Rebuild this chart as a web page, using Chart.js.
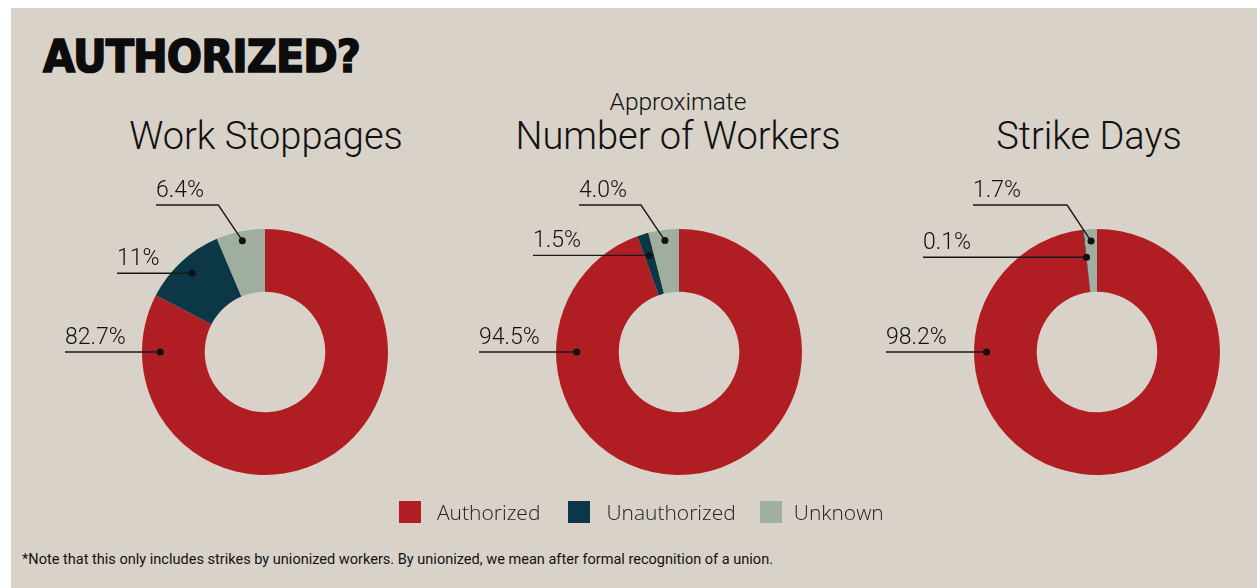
<!DOCTYPE html>
<html>
<head>
<meta charset="utf-8">
<script src="https://cdn.jsdelivr.net/npm/chart.js@4.4.1/dist/chart.umd.min.js"></script>
<style>
  html, body { margin: 0; padding: 0; background: #fff; width: 1257px; height: 588px; overflow: hidden; }
  #panel { position: absolute; left: 11px; top: 8px; right: 0; bottom: 0; background: #d9d2c9; }
  .abs { position: absolute; white-space: nowrap; }
  #headline { left: 43px; top: 31px; font-family: "DejaVu Sans"; font-weight: 900; font-size: 44px; color: #0c0c0c; transform-origin: 0 0; letter-spacing: -1px; -webkit-text-stroke: 1.6px #0c0c0c; }
  .title { font-family: Roboto; font-weight: 300; color: #111; transform: translateX(-50%); }
  canvas { position: absolute; }
  #legend { position: absolute; top: 498px; left: 399px; display: flex; align-items: center; font-family: "Open Sans"; font-weight: 300; font-size: 21px; color: #222; }
  #legend .item { display: flex; align-items: center; }
  #legend .box { width: 22px; height: 22px; margin-right: 16px; }
  #note { left: 22px; top: 551px; font-family: Roboto; font-size: 14px; font-weight: 400; color: #111; transform-origin: 0 0; }
</style>
</head>
<body>
<div id="panel"></div>
<div id="headline" class="abs">AUTHORIZED?</div>
<div class="abs title" style="left:266px; top:114px; font-size:38px;">Work Stoppages</div>
<div class="abs title" style="left:678px; top:87px; font-size:24.5px;">Approximate</div>
<div class="abs title" style="left:678px; top:114px; font-size:38px;">Number of Workers</div>
<div class="abs title" style="left:1089px; top:114px; font-size:38px;">Strike Days</div>
<canvas id="c0" width="460" height="390"></canvas>
<canvas id="c1" width="460" height="390"></canvas>
<canvas id="c2" width="460" height="390"></canvas>
<div id="legend"></div>
<div id="note" class="abs">*Note that this only includes strikes by unionized workers. By unionized, we mean after formal recognition of a union.</div>
<script>
const categories = ['Authorized', 'Unauthorized', 'Unknown'];
const colors = ['#b01e24', '#0b3747', '#9fae9f'];

const workStoppages = [82.7, 11, 6.4];
const workStoppagesLabels = ['82.7%', '11%', '6.4%'];
const workers = [94.5, 1.5, 4.0];
const workersLabels = ['94.5%', '1.5%', '4.0%'];
const strikeDays = [98.2, 0.1, 1.7];
const strikeDaysLabels = ['98.2%', '0.1%', '1.7%'];

// where each donut sits and how its callouts are laid out
const charts = [
  { id: 'c0', cx: 265, values: workStoppages, labels: workStoppagesLabels, textX: [-200, -148, -109], dotR: [0.71, 0.75, 0.85] },
  { id: 'c1', cx: 679, values: workers, labels: workersLabels, textX: [-200, -146, -100], dotR: [0.67, 0.65, 0.83] },
  { id: 'c2', cx: 1097, values: strikeDays, labels: strikeDaysLabels, textX: [-211, -174, -124], dotR: [0.8, 0.56, 0.81] }
];

const calloutPlugin = {
  id: 'callouts',
  afterDatasetsDraw(chart, args, opts) {
    const ctx = chart.ctx;
    const meta = chart.getDatasetMeta(0);
    ctx.save();
    ctx.strokeStyle = '#1a1a1a';
    ctx.fillStyle = '#111';
    ctx.lineWidth = 1.4;
    ctx.font = '300 23px Roboto';
    ctx.textBaseline = 'alphabetic';
    meta.data.forEach((arc, i) => {
      const p = arc.getProps(['x', 'y', 'startAngle', 'endAngle', 'innerRadius', 'outerRadius'], true);
      let ang = (p.startAngle + p.endAngle) / 2;
      if (p.startAngle <= Math.PI && p.endAngle >= Math.PI) ang = Math.PI;
      const r = p.innerRadius + opts.dotR[i] * (p.outerRadius - p.innerRadius);
      const dx = p.x + Math.cos(ang) * r;
      const dy = p.y + Math.sin(ang) * r;
      const sx = p.x + opts.textX[i];
      let ly = dy;
      ctx.beginPath();
      if (i === meta.data.length - 1) {
        ly = p.y - 147;
        ctx.moveTo(sx, ly);
        ctx.lineTo(dx - 24, ly);
        ctx.lineTo(dx, dy);
      } else {
        ctx.moveTo(sx, ly);
        ctx.lineTo(dx, dy);
      }
      ctx.stroke();
      ctx.beginPath();
      ctx.arc(dx, dy, 3.5, 0, Math.PI * 2);
      ctx.fill();
      ctx.fillText(opts.labels[i], sx, ly - 8);
    });
    ctx.restore();
  }
};

charts.forEach(c => {
  const el = document.getElementById(c.id);
  el.style.left = (c.cx - 230) + 'px';
  el.style.top = '160px';
  new Chart(el.getContext('2d'), {
    type: 'doughnut',
    data: {
      labels: categories,
      datasets: [{ data: c.values, backgroundColor: colors, borderWidth: 0, hoverOffset: 0 }]
    },
    options: {
      responsive: false,
      animation: false,
      cutout: '49%',
      layout: { padding: { top: 69, bottom: 75, left: 0, right: 0 } },
      events: [],
      plugins: {
        legend: { display: false },
        tooltip: { enabled: false },
        callouts: { labels: c.labels, textX: c.textX, dotR: c.dotR }
      }
    },
    plugins: [calloutPlugin]
  });
});

// legend
const legend = document.getElementById('legend');
categories.forEach((name, i) => {
  const item = document.createElement('div');
  item.className = 'item';
  item.style.marginRight = i === 0 ? '28px' : '24px';
  const gap = i === 2 ? 12 : 16;
  item.innerHTML = `<div class="box" style="background:${colors[i]};margin-right:${gap}px"></div><span>${name}</span>`;
  legend.appendChild(item);
});

// squeeze headline and footnote to the reference widths
function fitWidth(id, target) {
  const el = document.getElementById(id);
  const w = el.getBoundingClientRect().width;
  el.style.transform = `scaleX(${target / w})`;
}
fitWidth('headline', 317);
fitWidth('note', 751);
</script>
</body>
</html>
